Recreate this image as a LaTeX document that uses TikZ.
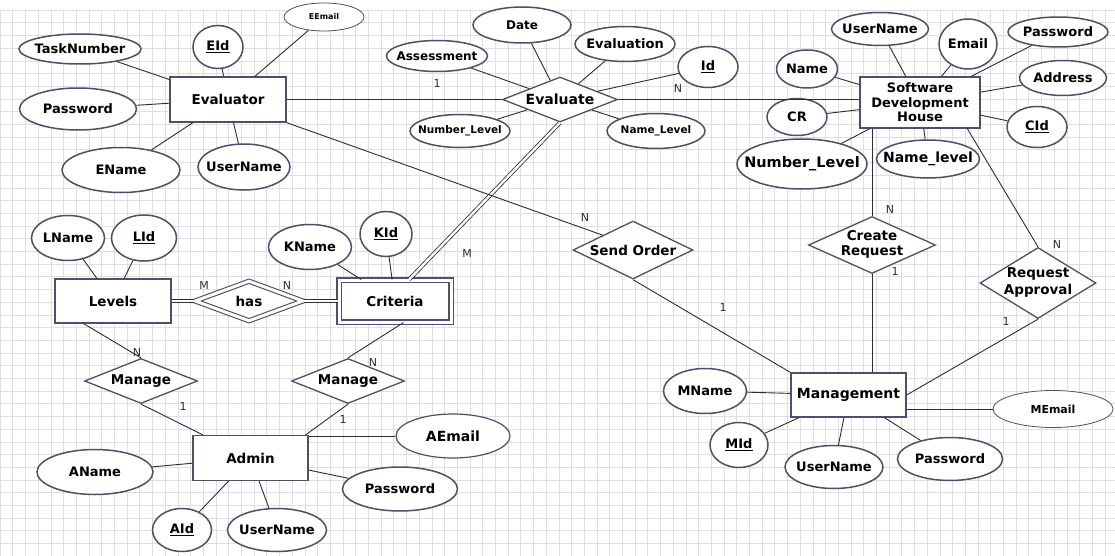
\documentclass[tikz,border=0pt]{standalone}
\usepackage{fontspec}
\setmainfont{DejaVu Sans}
\usetikzlibrary{shapes.geometric,calc}
\definecolor{bord}{RGB}{78,78,110}
\definecolor{conn}{RGB}{45,45,50}
\definecolor{gridc}{RGB}{222,222,228}
\newcommand\zw[1]{\makebox[0pt]{#1}}
\begin{document}
\begin{tikzpicture}[x=1pt,y=-1pt,
  fs/.style={font=\fontsize{#1}{#1}\selectfont\bfseries},
  sz/.style 2 args={minimum width=#1pt,minimum height=#2pt},
  attr/.style={ellipse,draw=bord,line width=1.5pt,fill=white,inner sep=0pt,fs=13},
  thinattr/.style={ellipse,draw=bord,line width=0.8pt,fill=white,inner sep=0pt},
  ent/.style={rectangle,draw=bord,line width=1.3pt,fill=white,inner sep=0pt,fs=13.5},
  rel/.style={diamond,aspect=2,draw=bord,line width=1.3pt,fill=white,inner sep=0pt,fs=13.5},
  dblborder/.style={double=white,double distance=3pt,line width=1.1pt},
  lnk/.style={draw=conn,line width=0.9pt},
  dbl/.style={draw=conn,double=white,double distance=2.4pt,line width=0.8pt},
  card/.style={font=\fontsize{11}{12}\selectfont,text=conn,inner sep=0pt},
  gridline/.style={draw=gridc,line width=0.5pt}
]
\useasboundingbox (0,0) rectangle (1115,556);
\fill[white] (0,0) rectangle (1115,556);
\foreach \gx in {0,12.7,...,1115} \draw[gridline] (\gx,10) -- (\gx,556);
\foreach \gy in {10,22.7,...,556} \draw[gridline] (0,\gy) -- (1115,\gy);

% ---------- Evaluator ----------
\node[ent,sz={116}{45}] (evr) at (228,99.5) {Evaluator};
\node[attr,sz={122}{30}] (evtask) at (80,49) {\zw{TaskNumber}};
\node[attr,sz={50}{43}] (evid) at (218,47) {\zw{\underline{EId}}};
\node[thinattr,sz={80}{28},font=\fontsize{8}{9}\selectfont\bfseries] (evmail) at (324,17) {\zw{EEmail}};
\node[attr,sz={117}{42}] (evpass) at (78,109) {\zw{Password}};
\node[attr,sz={118}{45}] (evname) at (121,170) {\zw{EName}};
\node[attr,sz={92}{46}] (evuser) at (244,167) {\zw{UserName}};
\foreach \a in {evtask,evid,evmail,evpass,evname,evuser} \draw[lnk] (evr) -- (\a);

% ---------- Evaluate ----------
\node[rel,sz={115}{45},fs=14] (evl) at (560,99.5) {\zw{Evaluate}};
\node[attr,sz={101}{31},fs=12] (assess) at (437,56) {\zw{Assessment}};
\node[attr,sz={98}{36},fs=12] (date) at (522,25) {\zw{Date}};
\node[attr,sz={100}{35}] (evaluation) at (625,44) {\zw{Evaluation}};
\node[attr,sz={60}{41}] (idn) at (708,67) {\zw{\underline{Id}}};
\node[attr,sz={100}{33},fs=10.5] (numlev) at (460,131) {\zw{Number\_Level}};
\node[attr,sz={98}{35},fs=10.5] (namelev) at (656,131) {\zw{Name\_Level}};
\foreach \a in {assess,date,evaluation,idn,numlev,namelev} \draw[lnk] (evl) -- (\a);

% ---------- Software Development House ----------
\node[ent,sz={120}{51},align=center,font=\fontsize{13}{14.5}\selectfont\bfseries] (sdh) at (920,102.5) {Software\\Development\\House};
\node[attr,sz={97}{33}] (sduser) at (880,29) {\zw{UserName}};
\node[attr,sz={58}{50}] (sdmail) at (968,44) {\zw{Email}};
\node[attr,sz={100}{30}] (sdpass) at (1058,32) {\zw{Password}};
\node[attr,sz={87}{35}] (sdaddr) at (1063,78) {\zw{Address}};
\node[attr,sz={60}{41}] (sdcid) at (1037,127) {\zw{\underline{CId}}};
\node[attr,sz={103}{38},fs=14] (sdnamel) at (928,159) {\zw{Name\_level}};
\node[attr,sz={130}{50},fs=14.5] (sdnuml) at (802,164) {\zw{Number\_Level}};
\node[attr,sz={60}{37}] (sdcr) at (797,117) {\zw{CR}};
\node[attr,sz={61}{38}] (sdname) at (807,69) {\zw{Name}};
\foreach \a in {sduser,sdmail,sdpass,sdaddr,sdcid,sdnamel,sdnuml,sdcr,sdname} \draw[lnk] (sdh) -- (\a);

% ---------- relationships right ----------
\node[rel,sz={120}{58}] (sord) at (633,250) {\zw{Send Order}};
\node[rel,sz={127}{57}] (creq) at (872,245) {\zw{\begin{tabular}{@{}c@{}}Create\\[2pt]Request\end{tabular}}};
\node[rel,sz={116}{71}] (rapp) at (1038,283) {\zw{\begin{tabular}{@{}c@{}}Request\\[2pt]Approval\end{tabular}}};

% ---------- Management ----------
\node[ent,sz={115}{44},fs=14] (mgt) at (848.5,395) {Management};
\node[attr,sz={83}{45}] (mname) at (705,391) {\zw{MName}};
\node[attr,sz={58}{45}] (mid) at (739,445) {\zw{\underline{MId}}};
\node[attr,sz={98}{43}] (muser) at (834,467) {\zw{UserName}};
\node[attr,sz={105}{43}] (mpass) at (950,459) {\zw{Password}};
\node[thinattr,sz={120}{37},font=\fontsize{11}{12}\selectfont\bfseries] (mmail) at (1053,409) {\zw{MEmail}};
\foreach \a in {mname,mid,muser,mpass} \draw[lnk] (mgt) -- (\a);
\draw[lnk] (mgt.east |- mmail.west) -- (mmail.west);

% ---------- Levels / has / Criteria ----------
\node[ent,sz={116}{44}] (lev) at (113,301) {Levels};
\node[attr,sz={73}{45}] (lname) at (68,238) {\zw{LName}};
\node[attr,sz={65}{46}] (lid) at (144,238) {\zw{\underline{LId}}};
\node[rel,dblborder,sz={108}{40}] (has) at (249,301) {\zw{has}};
\node[ent,dblborder,sz={112}{42}] (crit) at (395,301) {Criteria};
\node[attr,sz={83}{45}] (kname) at (310,247) {\zw{KName}};
\node[attr,sz={52}{45}] (kid) at (386,234) {\zw{\underline{KId}}};
\draw[lnk] (lev) -- (lname);
\draw[lnk] (lev) -- (lid);
\draw[lnk] (crit) -- (kname);
\draw[lnk] (crit) -- (kid);
\draw[dbl] (lev.east) -- (has.west);
\draw[dbl] (has.east) -- (crit.west);

% ---------- Manage / Admin ----------
\node[rel,sz={113}{45}] (man1) at (141,381) {\zw{Manage}};
\node[rel,sz={113}{45}] (man2) at (348,381) {\zw{Manage}};
\node[ent,sz={115}{45}] (adm) at (250.5,458) {Admin};
\node[attr,sz={116}{45}] (aname) at (95,472) {\zw{AName}};
\node[attr,sz={59}{43}] (aid) at (182,530) {\zw{\underline{AId}}};
\node[attr,sz={99}{43}] (auser) at (277,530) {\zw{UserName}};
\node[attr,sz={115}{44}] (apass) at (400,489) {\zw{Password}};
\node[thinattr,line width=1.2pt,sz={114}{44},fs=14] (amail) at (453,436) {\zw{AEmail}};
\foreach \a in {aname,aid,auser,apass} \draw[lnk] (adm) -- (\a);
\draw[lnk] (adm.east |- amail.west) -- (amail.west);

% ---------- relationship connectors ----------
\draw[lnk] (evr.east) -- (evl.west);
\draw[lnk] (evl.east) -- (sdh.west |- evl.east);
\draw[dbl] (evl.south) -- ($(crit.north)!0.25!(crit.north east)$);
\draw[lnk] (evr.south east) -- (sord.north west);
\draw[lnk] (sord.south) -- (mgt.north west);
\draw[lnk] (creq.north) -- (creq.north |- sdh.south);
\draw[lnk] (creq.south) -- (creq.south |- mgt.north);
\draw[lnk] ($(sdh.south)!0.78!(sdh.south east)$) -- (rapp.north);
\draw[lnk] (rapp.south) -- (mgt.east);
\draw[lnk] ($(lev.south west)!0.5!(lev.south)$) -- (man1.north);
\draw[lnk] ($(crit.south)!0.15!(crit.south east)$) -- (man2.north);
\draw[lnk] (man1.south) -- ($(adm.north west)!0.18!(adm.north)$);
\draw[lnk] (man2.south) -- ($(adm.north east)+(-3,0)$);

% ---------- cardinalities ----------
\node[card] (c1) at (437,83) {1};
\node[card] (c2) at (678,88) {N};
\node[card] (c3) at (467,253) {M};
\node[card] (c4) at (585,217) {N};
\node[card] (c5) at (723,307) {1};
\node[card] (c6) at (890,209) {N};
\node[card] (c7) at (895,271) {1};
\node[card] (c8) at (1057,244) {N};
\node[card] (c9) at (1006,321) {1};
\node[card] (c10) at (204,285) {M};
\node[card] (c11) at (287,285) {N};
\node[card] (c12) at (137,352) {N};
\node[card] (c13) at (373,362) {N};
\node[card] (c14) at (183,406) {1};
\node[card] (c15) at (343,419) {1};
\end{tikzpicture}
\end{document}
